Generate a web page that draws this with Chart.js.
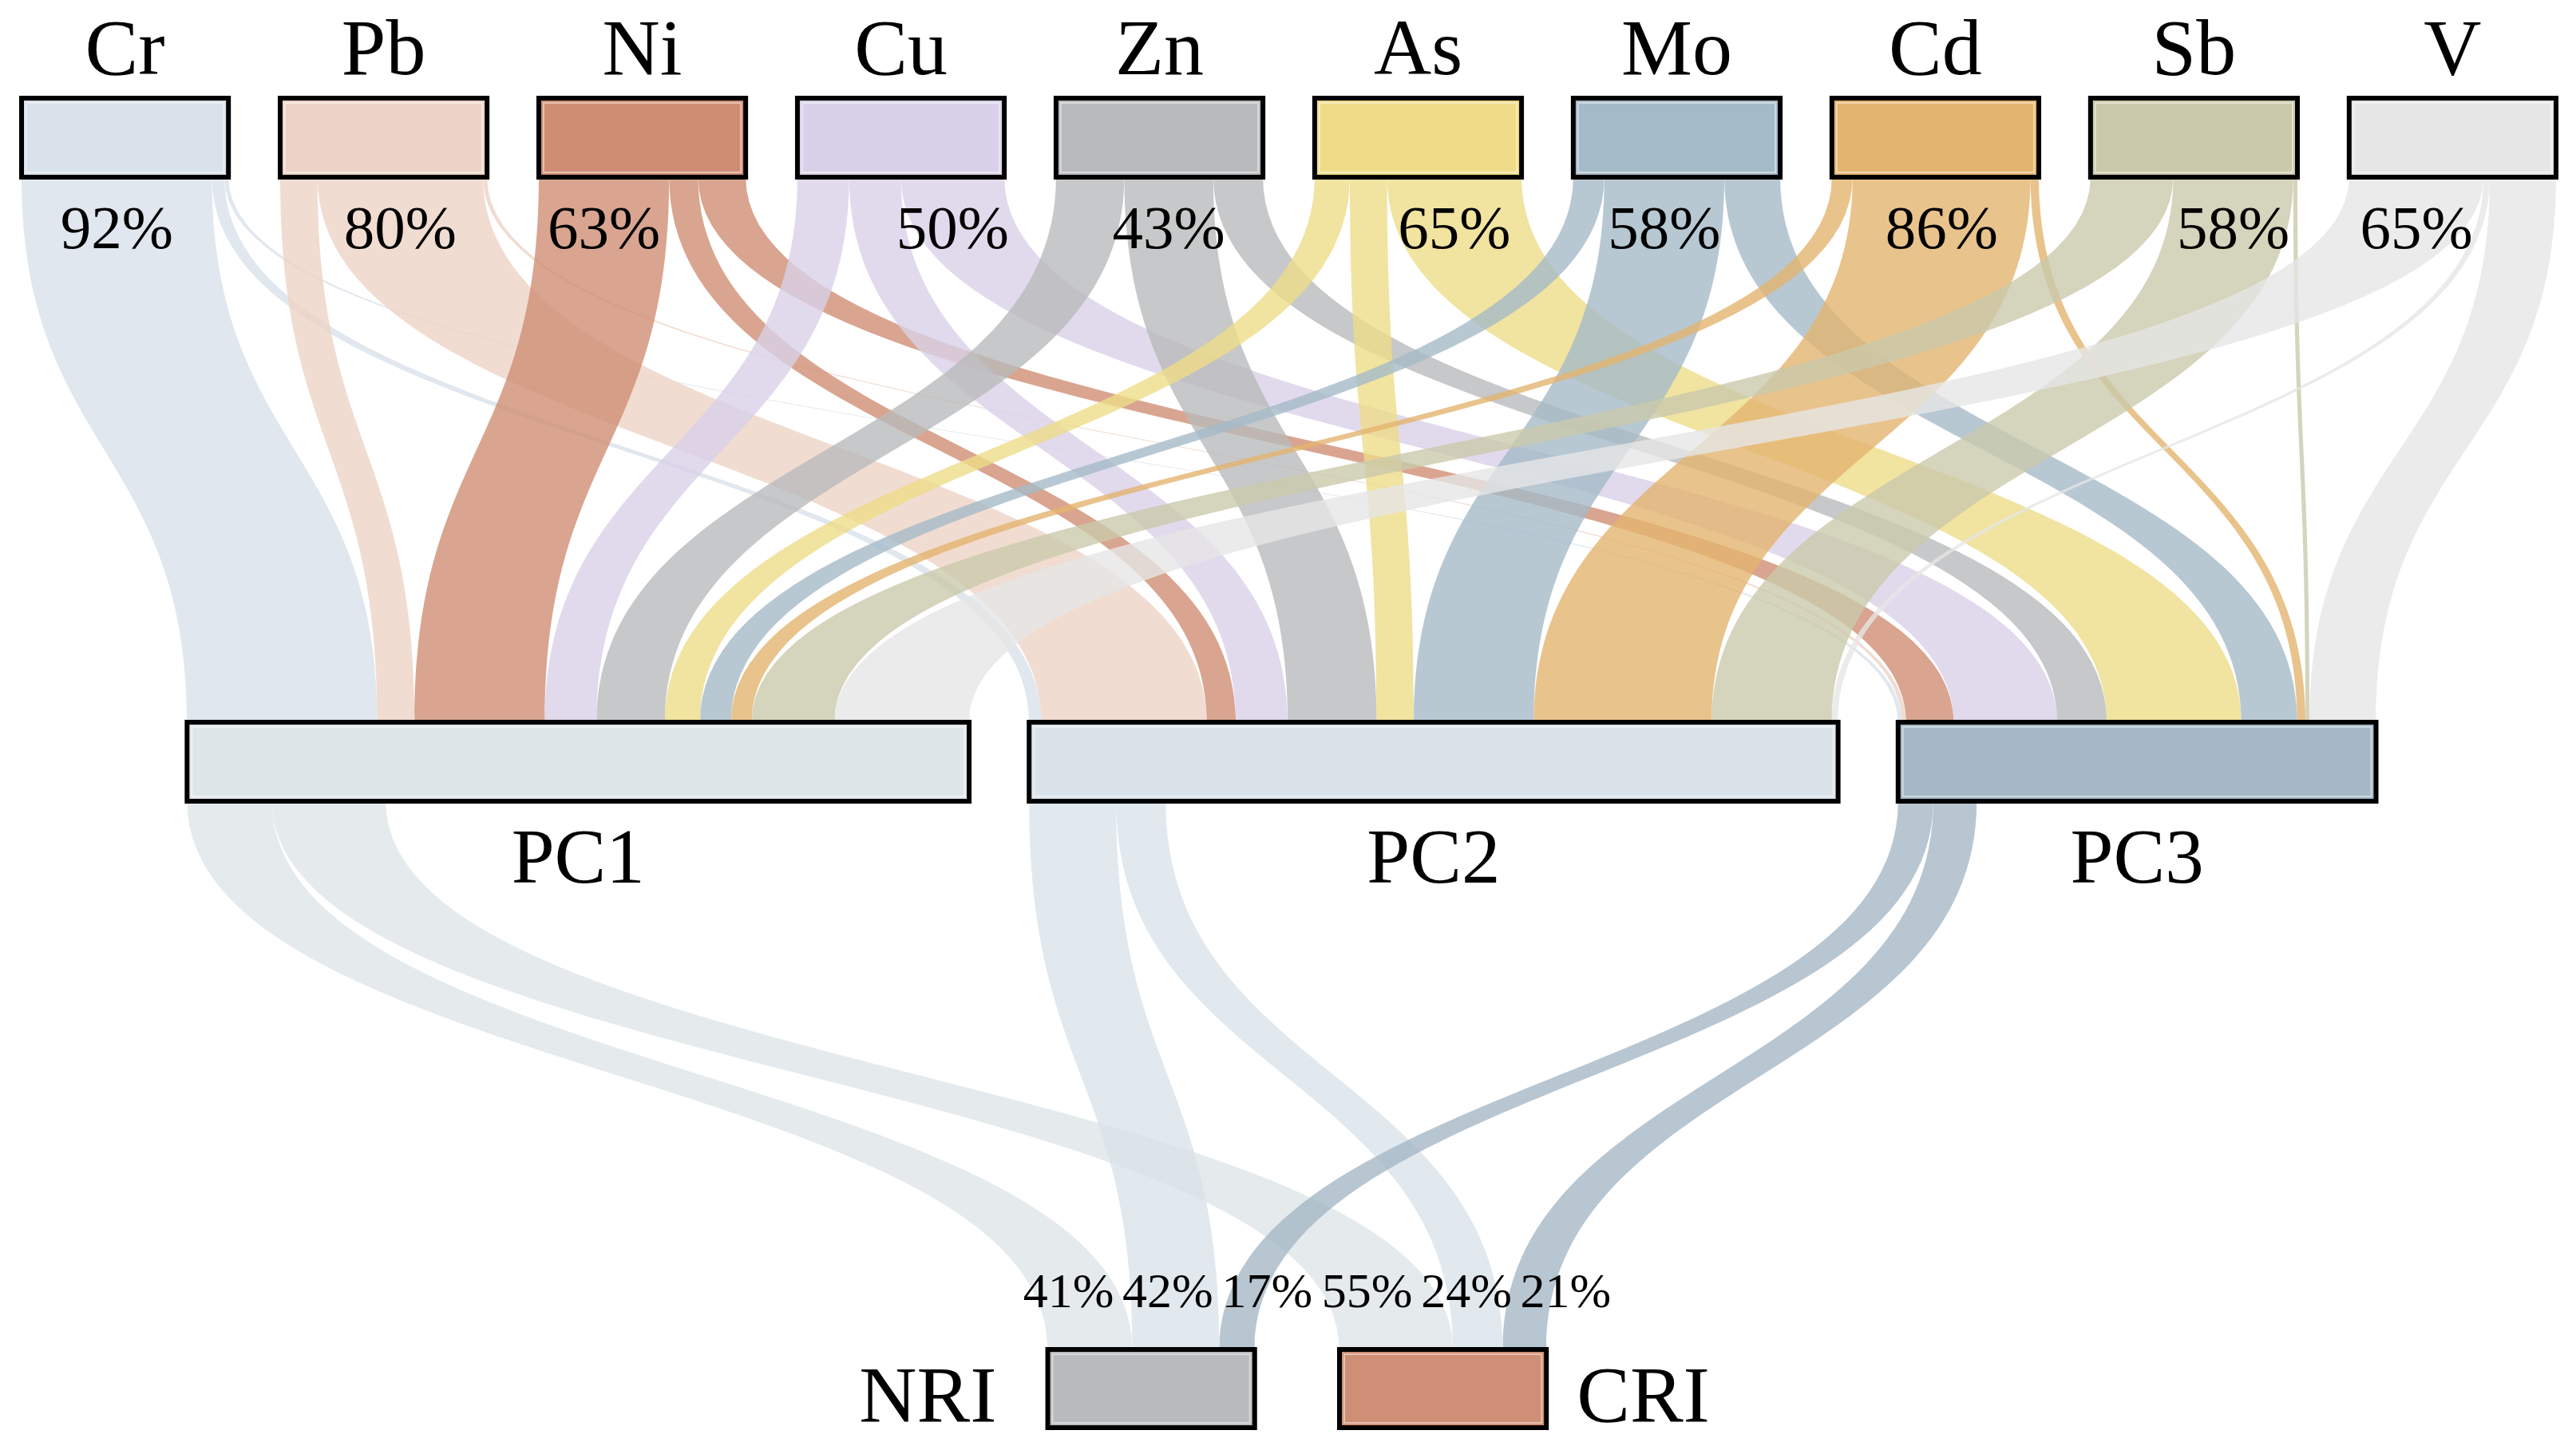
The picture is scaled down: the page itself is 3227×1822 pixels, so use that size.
<!DOCTYPE html>
<html>
<head>
<meta charset="utf-8">
<script src="https://cdn.jsdelivr.net/npm/chart.js@4.4.1/dist/chart.umd.min.js"></script>
<style>
  html, body { margin: 0; padding: 0; background: #ffffff; }
  canvas { display: block; }
</style>
</head>
<body>
<canvas id="chart" width="3227" height="1822"></canvas>
<script>
// ---------------- DATA ----------------
const elements = ['Cr', 'Pb', 'Ni', 'Cu', 'Zn', 'As', 'Mo', 'Cd', 'Sb', 'V'];
const components = ['PC1', 'PC2', 'PC3'];
const indices = ['NRI', 'CRI'];

// share (%) of each element attributed to PC1 / PC2 / PC3
const toPC1 = [92, 18, 63, 25, 33, 17, 15, 10, 40, 65];
const toPC2 = [6, 80, 14, 25, 43, 18, 58, 86, 58, 3];
const toPC3 = [2, 2, 23, 50, 24, 65, 27, 4, 2, 32];
const elementLabels = ['92%', '80%', '63%', '50%', '43%', '65%', '58%', '86%', '58%', '65%'];

// share (%) of NRI and CRI coming from PC1 / PC2 / PC3
const toNRI = [41, 42, 17];
const toCRI = [55, 24, 21];
const nriLabels = ['41%', '42%', '17%'];
const criLabels = ['55%', '24%', '21%'];

// ---------------- STYLE ----------------
const elementColors = ['#d9e1ea', '#edd3c5', '#cf8e74', '#d9d1e9', '#b9babc', '#eedc88', '#a5bac8', '#e3b46f', '#cac9ab', '#e6e6e6'];
const pcColors = ['#dee5e8', '#dae2ea', '#a5b8c5'];
const indexColors = ['#b9babc', '#cf8f76'];
const FONT = '"Liberation Serif", "Times New Roman", serif';

const LAYOUT = {
  center: 612.5,
  top: { y0: 123, y1: 222, gap: 25, shift: 0 },
  mid: { y0: 905, y1: 1004, gap: 29, shift: -3.5 },
  bot: { y0: 1691, y1: 1789, gap: 41, shift: 4 },
  bandAlpha: 0.8,
  labelSpacing: 48
};

function withAlpha(hex, a) {
  const r = parseInt(hex.slice(1, 3), 16), g = parseInt(hex.slice(3, 5), 16), b = parseInt(hex.slice(5, 7), 16);
  return `rgba(${r},${g},${b},${a})`;
}

function layoutRow(widths, row) {
  const total = widths.reduce((s, w) => s + w, 0) + row.gap * (widths.length - 1);
  let x = LAYOUT.center + row.shift - total / 2;
  return widths.map(w => { const n = { x0: x, x1: x + w }; x += w + row.gap; return n; });
}

const sankeyPlugin = {
  id: 'sankeyDraw',
  afterDatasetsDraw(chart) {
    const ctx = chart.ctx;
    const X = v => chart.scales.x.getPixelForValue(v);
    const Y = v => chart.scales.y.getPixelForValue(v);
    const flowsToPC = [toPC1, toPC2, toPC3];
    const flowsToIdx = [toNRI, toCRI];

    const topW = elements.map((_, i) => flowsToPC.reduce((s, f) => s + f[i], 0));
    const midW = flowsToPC.map(f => f.reduce((s, v) => s + v, 0));
    const botW = flowsToIdx.map(f => f.reduce((s, v) => s + v, 0));
    const topN = layoutRow(topW, LAYOUT.top);
    const midN = layoutRow(midW, LAYOUT.mid);
    const botN = layoutRow(botW, LAYOUT.bot);

    function band(sx0, sx1, sy, tx0, tx1, ty, color) {
      const ym = (Y(sy) + Y(ty)) / 2;
      ctx.beginPath();
      ctx.moveTo(X(sx0), Y(sy));
      ctx.bezierCurveTo(X(sx0), ym, X(tx0), ym, X(tx0), Y(ty));
      ctx.lineTo(X(tx1), Y(ty));
      ctx.bezierCurveTo(X(tx1), ym, X(sx1), ym, X(sx1), Y(sy));
      ctx.closePath();
      ctx.fillStyle = color;
      ctx.fill();
    }

    ctx.save();
    // --- element -> PC bands
    const inCur = midN.map(n => n.x0);
    const pctPos = [];
    elements.forEach((el, i) => {
      let c = topN[i].x0;
      let best = -1, bestX = 0;
      flowsToPC.forEach((f, k) => {
        const w = f[i];
        if (w > 0) band(c, c + w, LAYOUT.top.y1, inCur[k], inCur[k] + w, LAYOUT.mid.y0, withAlpha(elementColors[i], LAYOUT.bandAlpha));
        if (w > best) { best = w; bestX = c + w / 2; }
        c += w; inCur[k] += w;
      });
      pctPos.push(bestX);
    });
    // --- PC -> index bands
    const inCur2 = botN.map(n => n.x0);
    const centers = botN.map(() => []);
    components.forEach((pc, k) => {
      let c = midN[k].x0;
      flowsToIdx.forEach((f, j) => {
        const w = f[k];
        band(c, c + w, LAYOUT.mid.y1, inCur2[j], inCur2[j] + w, LAYOUT.bot.y0, withAlpha(pcColors[k], LAYOUT.bandAlpha));
        centers[j].push(inCur2[j] + w / 2);
        c += w; inCur2[j] += w;
      });
    });

    // --- nodes
    function node(n, row, color) {
      const x = X(n.x0), y = Y(row.y0), w = X(n.x1) - X(n.x0), h = Y(row.y1) - Y(row.y0);
      ctx.fillStyle = color;
      ctx.fillRect(x, y, w, h);
      ctx.strokeStyle = 'rgba(255,255,255,0.45)';
      ctx.lineWidth = 2;
      ctx.strokeRect(x + 6, y + 6, w - 12, h - 12);
      ctx.strokeStyle = '#000000';
      ctx.lineWidth = 6;
      ctx.strokeRect(x, y, w, h);
    }
    topN.forEach((n, i) => node(n, LAYOUT.top, elementColors[i]));
    midN.forEach((n, k) => node(n, LAYOUT.mid, pcColors[k]));
    botN.forEach((n, j) => node(n, LAYOUT.bot, indexColors[j]));

    // --- text
    ctx.fillStyle = '#000000';
    ctx.textBaseline = 'alphabetic';
    ctx.textAlign = 'center';
    ctx.font = `100px ${FONT}`;
    topN.forEach((n, i) => ctx.fillText(elements[i], X((n.x0 + n.x1) / 2), Y(93)));
    ctx.font = `77px ${FONT}`;
    pctPos.forEach((x, i) => ctx.fillText(elementLabels[i], X(x), Y(311)));
    ctx.font = `97px ${FONT}`;
    midN.forEach((n, k) => ctx.fillText(components[k], X((n.x0 + n.x1) / 2), Y(1106)));
    ctx.font = `62px ${FONT}`;
    [nriLabels, criLabels].forEach((labels, j) => {
      const mean = centers[j].reduce((s, v) => s + v, 0) / centers[j].length;
      labels.forEach((t, m) => ctx.fillText(t, X(mean + (m - (labels.length - 1) / 2) * LAYOUT.labelSpacing), Y(1638)));
    });
    ctx.font = `100px ${FONT}`;
    ctx.textAlign = 'right';
    ctx.fillText(indices[0], X(botN[0].x0) - 64, Y(1781));
    ctx.textAlign = 'left';
    ctx.fillText(indices[1], X(botN[1].x1) + 38, Y(1781));
    ctx.restore();
  }
};

new Chart(document.getElementById('chart'), {
  type: 'scatter',
  data: { datasets: [{ data: [], pointRadius: 0 }] },
  options: {
    responsive: false,
    animation: false,
    devicePixelRatio: 1,
    layout: { padding: { left: 27, right: 25, top: 0, bottom: 0 } },
    scales: {
      x: { type: 'linear', min: 0, max: 1225, display: false },
      y: { type: 'linear', min: 0, max: 1822, reverse: true, display: false }
    },
    plugins: { legend: { display: false }, tooltip: { enabled: false } }
  },
  plugins: [sankeyPlugin]
});
</script>
</body>
</html>
